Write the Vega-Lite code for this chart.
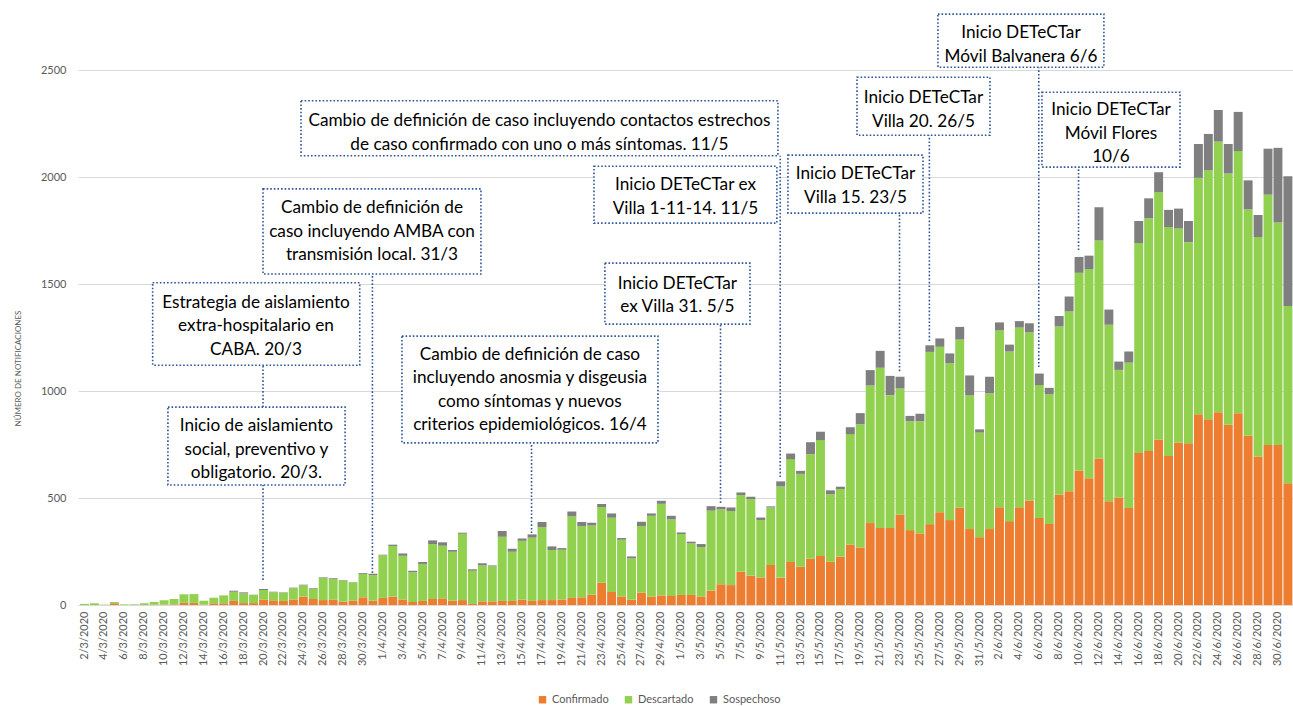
{
  "$schema": "https://vega.github.io/schema/vega-lite/v6.json",
  "width": 1215,
  "height": 599,
  "autosize": {"type": "none"},
  "padding": {"left": 78, "top": 6, "right": 0, "bottom": 101},
  "background": "#ffffff",
  "config": {
    "view": {"stroke": null},
    "font": "Lato",
    "axis": {"labelFont": "Lato", "titleFont": "Lato"},
    "legend": {"labelFont": "Lato"}
  },
  "datasets": {
    "casos": [
      {"f":"2020-03-02","Confirmado":0,"Descartado":5,"Sospechoso":0},
      {"f":"2020-03-03","Confirmado":0,"Descartado":8,"Sospechoso":0},
      {"f":"2020-03-04","Confirmado":0,"Descartado":2,"Sospechoso":0},
      {"f":"2020-03-05","Confirmado":8,"Descartado":6,"Sospechoso":0},
      {"f":"2020-03-06","Confirmado":0,"Descartado":3,"Sospechoso":0},
      {"f":"2020-03-07","Confirmado":0,"Descartado":3,"Sospechoso":0},
      {"f":"2020-03-08","Confirmado":0,"Descartado":8,"Sospechoso":0},
      {"f":"2020-03-09","Confirmado":1,"Descartado":13,"Sospechoso":0},
      {"f":"2020-03-10","Confirmado":2,"Descartado":20,"Sospechoso":0},
      {"f":"2020-03-11","Confirmado":3,"Descartado":25,"Sospechoso":0},
      {"f":"2020-03-12","Confirmado":10,"Descartado":40,"Sospechoso":0},
      {"f":"2020-03-13","Confirmado":10,"Descartado":41,"Sospechoso":0},
      {"f":"2020-03-14","Confirmado":2,"Descartado":18,"Sospechoso":0},
      {"f":"2020-03-15","Confirmado":8,"Descartado":26,"Sospechoso":0},
      {"f":"2020-03-16","Confirmado":8,"Descartado":37,"Sospechoso":0},
      {"f":"2020-03-17","Confirmado":19,"Descartado":43,"Sospechoso":5},
      {"f":"2020-03-18","Confirmado":9,"Descartado":45,"Sospechoso":5},
      {"f":"2020-03-19","Confirmado":9,"Descartado":38,"Sospechoso":1},
      {"f":"2020-03-20","Confirmado":26,"Descartado":44,"Sospechoso":5},
      {"f":"2020-03-21","Confirmado":22,"Descartado":38,"Sospechoso":2},
      {"f":"2020-03-22","Confirmado":19,"Descartado":38,"Sospechoso":2},
      {"f":"2020-03-23","Confirmado":26,"Descartado":52,"Sospechoso":3},
      {"f":"2020-03-24","Confirmado":39,"Descartado":53,"Sospechoso":3},
      {"f":"2020-03-25","Confirmado":28,"Descartado":48,"Sospechoso":3},
      {"f":"2020-03-26","Confirmado":23,"Descartado":103,"Sospechoso":3},
      {"f":"2020-03-27","Confirmado":26,"Descartado":95,"Sospechoso":4},
      {"f":"2020-03-28","Confirmado":16,"Descartado":99,"Sospechoso":2},
      {"f":"2020-03-29","Confirmado":20,"Descartado":86,"Sospechoso":1},
      {"f":"2020-03-30","Confirmado":36,"Descartado":109,"Sospechoso":4},
      {"f":"2020-03-31","Confirmado":20,"Descartado":120,"Sospechoso":6},
      {"f":"2020-04-01","Confirmado":33,"Descartado":199,"Sospechoso":3},
      {"f":"2020-04-02","Confirmado":39,"Descartado":237,"Sospechoso":6},
      {"f":"2020-04-03","Confirmado":26,"Descartado":204,"Sospechoso":11},
      {"f":"2020-04-04","Confirmado":14,"Descartado":139,"Sospechoso":7},
      {"f":"2020-04-05","Confirmado":19,"Descartado":173,"Sospechoso":9},
      {"f":"2020-04-06","Confirmado":28,"Descartado":257,"Sospechoso":17},
      {"f":"2020-04-07","Confirmado":31,"Descartado":246,"Sospechoso":16},
      {"f":"2020-04-08","Confirmado":20,"Descartado":229,"Sospechoso":8},
      {"f":"2020-04-09","Confirmado":23,"Descartado":310,"Sospechoso":5},
      {"f":"2020-04-10","Confirmado":5,"Descartado":155,"Sospechoso":7},
      {"f":"2020-04-11","Confirmado":17,"Descartado":168,"Sospechoso":10},
      {"f":"2020-04-12","Confirmado":17,"Descartado":164,"Sospechoso":4},
      {"f":"2020-04-13","Confirmado":19,"Descartado":300,"Sospechoso":27},
      {"f":"2020-04-14","Confirmado":19,"Descartado":230,"Sospechoso":14},
      {"f":"2020-04-15","Confirmado":25,"Descartado":275,"Sospechoso":11},
      {"f":"2020-04-16","Confirmado":19,"Descartado":296,"Sospechoso":15},
      {"f":"2020-04-17","Confirmado":23,"Descartado":341,"Sospechoso":24},
      {"f":"2020-04-18","Confirmado":23,"Descartado":234,"Sospechoso":17},
      {"f":"2020-04-19","Confirmado":26,"Descartado":232,"Sospechoso":8},
      {"f":"2020-04-20","Confirmado":33,"Descartado":381,"Sospechoso":23},
      {"f":"2020-04-21","Confirmado":36,"Descartado":333,"Sospechoso":19},
      {"f":"2020-04-22","Confirmado":48,"Descartado":324,"Sospechoso":13},
      {"f":"2020-04-23","Confirmado":104,"Descartado":354,"Sospechoso":14},
      {"f":"2020-04-24","Confirmado":61,"Descartado":347,"Sospechoso":20},
      {"f":"2020-04-25","Confirmado":40,"Descartado":265,"Sospechoso":8},
      {"f":"2020-04-26","Confirmado":25,"Descartado":193,"Sospechoso":9},
      {"f":"2020-04-27","Confirmado":58,"Descartado":311,"Sospechoso":20},
      {"f":"2020-04-28","Confirmado":39,"Descartado":378,"Sospechoso":11},
      {"f":"2020-04-29","Confirmado":45,"Descartado":428,"Sospechoso":14},
      {"f":"2020-04-30","Confirmado":42,"Descartado":358,"Sospechoso":17},
      {"f":"2020-05-01","Confirmado":47,"Descartado":285,"Sospechoso":7},
      {"f":"2020-05-02","Confirmado":47,"Descartado":241,"Sospechoso":8},
      {"f":"2020-05-03","Confirmado":40,"Descartado":231,"Sospechoso":14},
      {"f":"2020-05-04","Confirmado":67,"Descartado":374,"Sospechoso":21},
      {"f":"2020-05-05","Confirmado":97,"Descartado":350,"Sospechoso":12},
      {"f":"2020-05-06","Confirmado":93,"Descartado":346,"Sospechoso":17},
      {"f":"2020-05-07","Confirmado":156,"Descartado":358,"Sospechoso":12},
      {"f":"2020-05-08","Confirmado":137,"Descartado":358,"Sospechoso":11},
      {"f":"2020-05-09","Confirmado":129,"Descartado":268,"Sospechoso":12},
      {"f":"2020-05-10","Confirmado":187,"Descartado":269,"Sospechoso":5},
      {"f":"2020-05-11","Confirmado":128,"Descartado":426,"Sospechoso":24},
      {"f":"2020-05-12","Confirmado":201,"Descartado":481,"Sospechoso":26},
      {"f":"2020-05-13","Confirmado":179,"Descartado":434,"Sospechoso":14},
      {"f":"2020-05-14","Confirmado":216,"Descartado":489,"Sospechoso":56},
      {"f":"2020-05-15","Confirmado":229,"Descartado":542,"Sospechoso":39},
      {"f":"2020-05-16","Confirmado":202,"Descartado":316,"Sospechoso":18},
      {"f":"2020-05-17","Confirmado":226,"Descartado":316,"Sospechoso":11},
      {"f":"2020-05-18","Confirmado":282,"Descartado":517,"Sospechoso":32},
      {"f":"2020-05-19","Confirmado":269,"Descartado":576,"Sospechoso":52},
      {"f":"2020-05-20","Confirmado":383,"Descartado":643,"Sospechoso":72},
      {"f":"2020-05-21","Confirmado":360,"Descartado":749,"Sospechoso":79},
      {"f":"2020-05-22","Confirmado":360,"Descartado":621,"Sospechoso":90},
      {"f":"2020-05-23","Confirmado":422,"Descartado":590,"Sospechoso":55},
      {"f":"2020-05-24","Confirmado":350,"Descartado":509,"Sospechoso":25},
      {"f":"2020-05-25","Confirmado":335,"Descartado":524,"Sospechoso":35},
      {"f":"2020-05-26","Confirmado":378,"Descartado":805,"Sospechoso":31},
      {"f":"2020-05-27","Confirmado":433,"Descartado":774,"Sospechoso":39},
      {"f":"2020-05-28","Confirmado":397,"Descartado":733,"Sospechoso":46},
      {"f":"2020-05-29","Confirmado":455,"Descartado":786,"Sospechoso":59},
      {"f":"2020-05-30","Confirmado":355,"Descartado":625,"Sospechoso":93},
      {"f":"2020-05-31","Confirmado":317,"Descartado":489,"Sospechoso":15},
      {"f":"2020-06-01","Confirmado":355,"Descartado":634,"Sospechoso":78},
      {"f":"2020-06-02","Confirmado":457,"Descartado":827,"Sospechoso":37},
      {"f":"2020-06-03","Confirmado":392,"Descartado":793,"Sospechoso":32},
      {"f":"2020-06-04","Confirmado":457,"Descartado":840,"Sospechoso":30},
      {"f":"2020-06-05","Confirmado":489,"Descartado":785,"Sospechoso":43},
      {"f":"2020-06-06","Confirmado":407,"Descartado":621,"Sospechoso":54},
      {"f":"2020-06-07","Confirmado":379,"Descartado":606,"Sospechoso":30},
      {"f":"2020-06-08","Confirmado":517,"Descartado":785,"Sospechoso":49},
      {"f":"2020-06-09","Confirmado":532,"Descartado":840,"Sospechoso":70},
      {"f":"2020-06-10","Confirmado":629,"Descartado":924,"Sospechoso":74},
      {"f":"2020-06-11","Confirmado":593,"Descartado":976,"Sospechoso":64},
      {"f":"2020-06-12","Confirmado":685,"Descartado":1019,"Sospechoso":155},
      {"f":"2020-06-13","Confirmado":485,"Descartado":825,"Sospechoso":71},
      {"f":"2020-06-14","Confirmado":502,"Descartado":597,"Sospechoso":39},
      {"f":"2020-06-15","Confirmado":453,"Descartado":680,"Sospechoso":52},
      {"f":"2020-06-16","Confirmado":711,"Descartado":981,"Sospechoso":103},
      {"f":"2020-06-17","Confirmado":720,"Descartado":1088,"Sospechoso":93},
      {"f":"2020-06-18","Confirmado":774,"Descartado":1155,"Sospechoso":94},
      {"f":"2020-06-19","Confirmado":696,"Descartado":1071,"Sospechoso":80},
      {"f":"2020-06-20","Confirmado":759,"Descartado":1001,"Sospechoso":93},
      {"f":"2020-06-21","Confirmado":756,"Descartado":940,"Sospechoso":99},
      {"f":"2020-06-22","Confirmado":892,"Descartado":1105,"Sospechoso":158},
      {"f":"2020-06-23","Confirmado":868,"Descartado":1164,"Sospechoso":170},
      {"f":"2020-06-24","Confirmado":901,"Descartado":1265,"Sospechoso":148},
      {"f":"2020-06-25","Confirmado":843,"Descartado":1174,"Sospechoso":138},
      {"f":"2020-06-26","Confirmado":896,"Descartado":1226,"Sospechoso":183},
      {"f":"2020-06-27","Confirmado":791,"Descartado":1058,"Sospechoso":136},
      {"f":"2020-06-28","Confirmado":694,"Descartado":1026,"Sospechoso":103},
      {"f":"2020-06-29","Confirmado":748,"Descartado":1170,"Sospechoso":215},
      {"f":"2020-06-30","Confirmado":748,"Descartado":1040,"Sospechoso":349},
      {"f":"2020-07-01","Confirmado":569,"Descartado":829,"Sospechoso":606}
    ],
    "cajas": [
      {"x0":"2020-03-10T22:30:00Z","x1":"2020-03-28T18:00:00Z","y0":561,"y1":925,"xc":"2020-03-19T20:00:00Z","yc":836,"t":["Inicio de aislamiento","social, preventivo y","obligatorio. 20/3."]},
      {"x0":"2020-03-09T09:40:00Z","x1":"2020-03-30T05:20:00Z","y0":1121,"y1":1506,"xc":"2020-03-19T19:00:00Z","yc":1412,"t":["Estrategia de aislamiento","extra-hospitalario en","CABA. 20/3"]},
      {"x0":"2020-03-20T12:00:00Z","x1":"2020-04-11T09:50:00Z","y0":1547,"y1":1945,"xc":"2020-03-31T11:00:00Z","yc":1854,"t":["Cambio de definición de","caso incluyendo AMBA con","transmisión local. 31/3"]},
      {"x0":"2020-04-03T11:15:00Z","x1":"2020-04-29T05:00:00Z","y0":758,"y1":1257,"xc":"2020-04-16T08:00:00Z","yc":1169,"t":["Cambio de definición de caso","incluyendo anosmia y disgeusia","como síntomas y nuevos","criterios epidemiológicos. 16/4"]},
      {"x0":"2020-04-23T21:00:00Z","x1":"2020-05-08T11:00:00Z","y0":1313,"y1":1598,"xc":"2020-05-01T04:00:00Z","yc":1501,"t":["Inicio DETeCTar","ex Villa 31. 5/5"]},
      {"x0":"2020-03-24T07:40:00Z","x1":"2020-05-11T06:30:00Z","y0":2100,"y1":2357,"xc":"2020-04-17T07:00:00Z","yc":2261,"t":["Cambio de definición de caso incluyendo contactos estrechos","de caso confirmado con uno o más síntomas. 11/5"]},
      {"x0":"2020-04-22T18:40:00Z","x1":"2020-05-11T04:00:00Z","y0":1785,"y1":2051,"xc":"2020-05-01T23:30:00Z","yc":1963,"t":["Inicio DETeCTar ex","Villa 1-11-14. 11/5"]},
      {"x0":"2020-05-12T06:40:00Z","x1":"2020-05-25T20:40:00Z","y0":1832,"y1":2103,"xc":"2020-05-19T01:40:00Z","yc":2013,"t":["Inicio DETeCTar","Villa 15. 23/5"]},
      {"x0":"2020-05-19T05:20:00Z","x1":"2020-06-01T14:10:00Z","y0":2196,"y1":2467,"xc":"2020-05-25T21:40:00Z","yc":2369,"t":["Inicio DETeCTar","Villa 20. 26/5"]},
      {"x0":"2020-05-27T08:40:00Z","x1":"2020-06-13T01:10:00Z","y0":2514,"y1":2762,"xc":"2020-06-04T17:00:00Z","yc":2672,"t":["Inicio DETeCTar","Móvil Balvanera 6/6"]},
      {"x0":"2020-06-06T19:40:00Z","x1":"2020-06-20T16:50:00Z","y0":2047,"y1":2397,"xc":"2020-06-13T18:15:00Z","yc":2312,"t":["Inicio DETeCTar","Móvil Flores","10/6"]}
    ],
    "guias": [
      {"x":"2020-03-20T12:00:00Z","y0":117,"y1":561},
      {"x":"2020-03-20T12:00:00Z","y0":925,"y1":1121},
      {"x":"2020-03-31T12:00:00Z","y0":150,"y1":1547},
      {"x":"2020-04-16T12:00:00Z","y0":336,"y1":758},
      {"x":"2020-05-05T12:00:00Z","y0":477,"y1":1313},
      {"x":"2020-05-11T12:00:00Z","y0":598,"y1":2100},
      {"x":"2020-05-23T12:00:00Z","y0":1093,"y1":1832},
      {"x":"2020-05-26T12:00:00Z","y0":1234,"y1":2196},
      {"x":"2020-06-06T12:00:00Z","y0":1112,"y1":2514},
      {"x":"2020-06-10T12:00:00Z","y0":1659,"y1":2047}
    ]
  },
  "layer": [
    {
      "data": {"name": "casos"},
      "transform": [
        {"fold": ["Confirmado", "Descartado", "Sospechoso"], "as": ["serie", "n"]}
      ],
      "mark": {"type": "bar", "timeUnitBandSize": 0.7, "timeUnitBandPosition": 0.15},
      "encoding": {
        "x": {
          "field": "f", "type": "temporal", "timeUnit": "utcyearmonthdate",
          "scale": {"type": "utc", "domain": [
            {"year": 2020, "month": 3, "date": 1, "hours": 21, "minutes": 30, "utc": true},
            {"year": 2020, "month": 7, "date": 2, "hours": 1, "minutes": 30, "utc": true}
          ]},
          "axis": {
            "title": null,
            "grid": false,
            "ticks": false,
            "domain": true,
            "domainColor": "#D9D9D9",
            "labelAngle": -90,
            "labelFontSize": 11,
            "labelColor": "#595959",
            "labelPadding": 6,
            "labelOverlap": false,
            "labelBound": false,
            "tickCount": 200,
            "labelExpr": "utcFormat(datum.value, '%-d/%-m/%Y')",
            "values": [
              {"year":2020,"month":3,"date":2,"hours":12,"utc":true},
              {"year":2020,"month":3,"date":4,"hours":12,"utc":true},
              {"year":2020,"month":3,"date":6,"hours":12,"utc":true},
              {"year":2020,"month":3,"date":8,"hours":12,"utc":true},
              {"year":2020,"month":3,"date":10,"hours":12,"utc":true},
              {"year":2020,"month":3,"date":12,"hours":12,"utc":true},
              {"year":2020,"month":3,"date":14,"hours":12,"utc":true},
              {"year":2020,"month":3,"date":16,"hours":12,"utc":true},
              {"year":2020,"month":3,"date":18,"hours":12,"utc":true},
              {"year":2020,"month":3,"date":20,"hours":12,"utc":true},
              {"year":2020,"month":3,"date":22,"hours":12,"utc":true},
              {"year":2020,"month":3,"date":24,"hours":12,"utc":true},
              {"year":2020,"month":3,"date":26,"hours":12,"utc":true},
              {"year":2020,"month":3,"date":28,"hours":12,"utc":true},
              {"year":2020,"month":3,"date":30,"hours":12,"utc":true},
              {"year":2020,"month":4,"date":1,"hours":12,"utc":true},
              {"year":2020,"month":4,"date":3,"hours":12,"utc":true},
              {"year":2020,"month":4,"date":5,"hours":12,"utc":true},
              {"year":2020,"month":4,"date":7,"hours":12,"utc":true},
              {"year":2020,"month":4,"date":9,"hours":12,"utc":true},
              {"year":2020,"month":4,"date":11,"hours":12,"utc":true},
              {"year":2020,"month":4,"date":13,"hours":12,"utc":true},
              {"year":2020,"month":4,"date":15,"hours":12,"utc":true},
              {"year":2020,"month":4,"date":17,"hours":12,"utc":true},
              {"year":2020,"month":4,"date":19,"hours":12,"utc":true},
              {"year":2020,"month":4,"date":21,"hours":12,"utc":true},
              {"year":2020,"month":4,"date":23,"hours":12,"utc":true},
              {"year":2020,"month":4,"date":25,"hours":12,"utc":true},
              {"year":2020,"month":4,"date":27,"hours":12,"utc":true},
              {"year":2020,"month":4,"date":29,"hours":12,"utc":true},
              {"year":2020,"month":5,"date":1,"hours":12,"utc":true},
              {"year":2020,"month":5,"date":3,"hours":12,"utc":true},
              {"year":2020,"month":5,"date":5,"hours":12,"utc":true},
              {"year":2020,"month":5,"date":7,"hours":12,"utc":true},
              {"year":2020,"month":5,"date":9,"hours":12,"utc":true},
              {"year":2020,"month":5,"date":11,"hours":12,"utc":true},
              {"year":2020,"month":5,"date":13,"hours":12,"utc":true},
              {"year":2020,"month":5,"date":15,"hours":12,"utc":true},
              {"year":2020,"month":5,"date":17,"hours":12,"utc":true},
              {"year":2020,"month":5,"date":19,"hours":12,"utc":true},
              {"year":2020,"month":5,"date":21,"hours":12,"utc":true},
              {"year":2020,"month":5,"date":23,"hours":12,"utc":true},
              {"year":2020,"month":5,"date":25,"hours":12,"utc":true},
              {"year":2020,"month":5,"date":27,"hours":12,"utc":true},
              {"year":2020,"month":5,"date":29,"hours":12,"utc":true},
              {"year":2020,"month":5,"date":31,"hours":12,"utc":true},
              {"year":2020,"month":6,"date":2,"hours":12,"utc":true},
              {"year":2020,"month":6,"date":4,"hours":12,"utc":true},
              {"year":2020,"month":6,"date":6,"hours":12,"utc":true},
              {"year":2020,"month":6,"date":8,"hours":12,"utc":true},
              {"year":2020,"month":6,"date":10,"hours":12,"utc":true},
              {"year":2020,"month":6,"date":12,"hours":12,"utc":true},
              {"year":2020,"month":6,"date":14,"hours":12,"utc":true},
              {"year":2020,"month":6,"date":16,"hours":12,"utc":true},
              {"year":2020,"month":6,"date":18,"hours":12,"utc":true},
              {"year":2020,"month":6,"date":20,"hours":12,"utc":true},
              {"year":2020,"month":6,"date":22,"hours":12,"utc":true},
              {"year":2020,"month":6,"date":24,"hours":12,"utc":true},
              {"year":2020,"month":6,"date":26,"hours":12,"utc":true},
              {"year":2020,"month":6,"date":28,"hours":12,"utc":true},
              {"year":2020,"month":6,"date":30,"hours":12,"utc":true}
            ]
          }
        },
        "y": {
          "field": "n", "type": "quantitative", "stack": "zero",
          "scale": {"domain": [0, 2800], "nice": false},
          "axis": {
            "title": "NÚMERO DE NOTIFICACIONES",
            "titleFontSize": 8,
            "titleFontWeight": "normal",
            "titleColor": "#595959",
            "titlePadding": 18,
            "titleY": 362,
            "values": [0, 500, 1000, 1500, 2000, 2500],
            "format": "d",
            "grid": true,
            "gridColor": "#D9D9D9",
            "domain": false,
            "ticks": false,
            "labelFontSize": 11,
            "labelColor": "#595959",
            "labelPadding": 12
          }
        },
        "color": {
          "field": "serie", "type": "nominal",
          "scale": {"domain": ["Confirmado", "Descartado", "Sospechoso"], "range": ["#ED7D31", "#92D050", "#7F7F7F"]},
          "legend": {
            "title": null,
            "orient": "none",
            "legendX": 459,
            "legendY": 688,
            "direction": "horizontal",
            "symbolType": "square",
            "symbolSize": 55,
            "symbolStrokeWidth": 0,
            "labelFontSize": 11,
            "labelColor": "#595959",
            "columnPadding": 14,
            "labelOffset": 4
          }
        },
        "order": {"field": "serie", "sort": "ascending"}
      }
    },
    {
      "data": {"name": "guias"},
      "mark": {"type": "rule", "color": "#2F5597", "strokeWidth": 1.6, "strokeDash": [1.6, 2]},
      "encoding": {
        "x": {"field": "x", "type": "temporal", "scale": {"type": "utc"}},
        "y": {"field": "y0", "type": "quantitative"},
        "y2": {"field": "y1"}
      }
    },
    {
      "data": {"name": "cajas"},
      "mark": {"type": "rect", "fill": "#ffffff", "stroke": "#2F5597", "strokeWidth": 1.6, "strokeDash": [1.6, 2]},
      "encoding": {
        "x": {"field": "x0", "type": "temporal", "scale": {"type": "utc"}},
        "x2": {"field": "x1"},
        "y": {"field": "y0", "type": "quantitative"},
        "y2": {"field": "y1"}
      }
    },
    {
      "data": {"name": "cajas"},
      "mark": {"type": "text", "font": "Lato", "fontSize": 17.2, "color": "#000000", "align": "center", "baseline": "middle", "lineHeight": 23.5},
      "encoding": {
        "x": {"field": "xc", "type": "temporal", "scale": {"type": "utc"}},
        "y": {"field": "yc", "type": "quantitative"},
        "text": {"field": "t"}
      }
    }
  ]
}
